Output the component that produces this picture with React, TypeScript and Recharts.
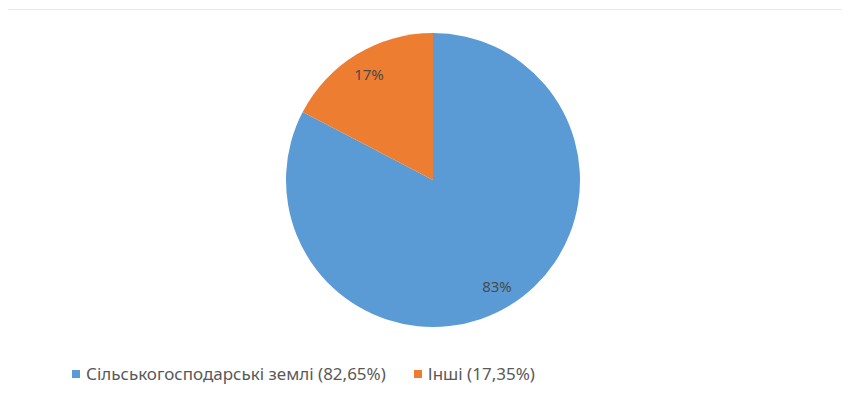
import React from "react";
import { PieChart, Pie, Cell, Legend } from "recharts";

// ─── Data ─────────────────────────────────────────────────────────────────────

const CATEGORIES = ["Сільськогосподарські землі", "Інші"];
const SHARES = [82.65, 17.35];
const COLORS = ["#5B9BD5", "#ED7D31"];

const data = CATEGORIES.map((name, i) => ({ name, value: SHARES[i] }));

const RADIAN = Math.PI / 180;
const FONT = "'Noto Sans', 'DejaVu Sans', sans-serif";

// ─── Slice label (percent, inside slice) ─────────────────────────────────────

function SliceLabel({ cx, cy, midAngle, outerRadius, percent }: any) {
  const r = outerRadius * 0.84;
  const x = cx + r * Math.cos(-midAngle * RADIAN);
  const y = cy + r * Math.sin(-midAngle * RADIAN);
  return (
    <text
      x={x}
      y={y}
      fill="#4a4a4a"
      fontFamily={FONT}
      fontSize={15}
      textAnchor="middle"
      dominantBaseline="central"
    >
      {Math.round(percent * 100)}%
    </text>
  );
}

// ─── Legend ───────────────────────────────────────────────────────────────────

function LegendContent() {
  return (
    <div style={{ display: "flex", gap: 28, fontFamily: FONT, fontSize: 17, color: "#595959" }}>
      {data.map((d, i) => (
        <div key={d.name} style={{ display: "flex", alignItems: "center", gap: 6 }}>
          <div style={{ width: 8, height: 8, background: COLORS[i] }} />
          <span>
            {d.name} ({d.value.toFixed(2).replace(".", ",")}%)
          </span>
        </div>
      ))}
    </div>
  );
}

// ─── Main component ───────────────────────────────────────────────────────────

export default function App() {
  return (
    <div style={{ position: "relative", margin: -8, width: 850, height: 393, background: "#fff", overflow: "hidden" }}>
      <div
        style={{
          position: "absolute",
          left: 7,
          top: 9,
          width: 850,
          height: 400,
          border: "1px solid #e8e8e8",
          boxSizing: "border-box",
        }}
      />
      <div style={{ position: "absolute", left: 0, top: 0 }}>
        <PieChart width={850} height={393} margin={{ top: 0, right: 0, bottom: 0, left: 0 }}>
          <Pie
            data={data}
            dataKey="value"
            nameKey="name"
            cx={433}
            cy={180}
            outerRadius={147}
            startAngle={90}
            endAngle={-270}
            stroke="none"
            label={<SliceLabel />}
            labelLine={false}
            isAnimationActive={false}
          >
            {data.map((_, i) => (
              <Cell key={i} fill={COLORS[i]} />
            ))}
          </Pie>
          <Legend content={<LegendContent />} wrapperStyle={{ left: 72, top: 362, width: "auto" }} />
        </PieChart>
      </div>
    </div>
  );
}
